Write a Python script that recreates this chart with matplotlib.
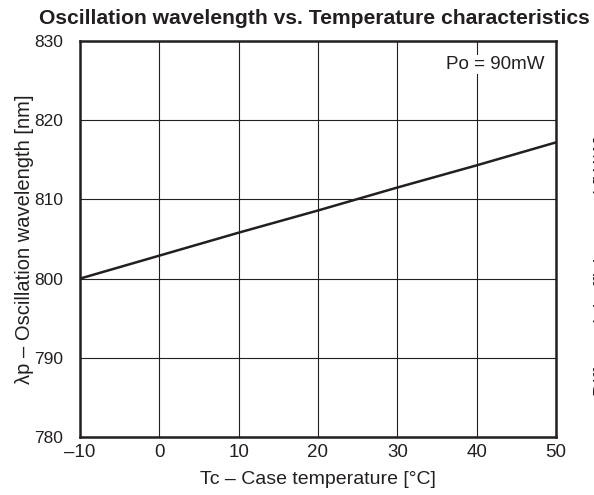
import matplotlib
matplotlib.use("Agg")
import matplotlib.pyplot as plt

plt.rcParams['font.family'] = ['Liberation Sans', 'DejaVu Sans']

temperature = [-10, 0, 10, 20, 30, 40, 50]
wavelength = [800.0, 802.9, 805.8, 808.6, 811.5, 814.3, 817.2]
x_ticks = [-10, 0, 10, 20, 30, 40, 50]
x_tick_labels = ['\u201310', '0', '10', '20', '30', '40', '50']
y_ticks = [780, 790, 800, 810, 820, 830]

INK = '#231f20'

fig = plt.figure(figsize=(5.94, 4.95), dpi=100)
ax = fig.add_axes([80/594, 1 - 437/495, (556-80)/594, (437-41)/495])

ax.plot(temperature, wavelength, color=INK, lw=1.8, solid_capstyle='butt')
ax.set_xlim(-10, 50)
ax.set_ylim(780, 830)
ax.set_xticks(x_ticks)
ax.set_xticklabels(x_tick_labels)
ax.set_yticks(y_ticks)
ax.grid(True, color=INK, lw=0.8)
ax.tick_params(length=0, colors=INK)
ax.tick_params(axis='x', labelsize=13.5, pad=5)
ax.tick_params(axis='y', labelsize=12.5, pad=12)
for s in ax.spines.values():
    s.set_linewidth(1.8)
    s.set_color(INK)

ax.set_xlabel('Tc \u2013 Case temperature [\u00b0C]', fontsize=14, labelpad=7, color=INK)
ax.set_ylabel('\u03bbp \u2013 Oscillation wavelength [nm]', fontsize=14.5, labelpad=0, color=INK)

fig.text(544/594, 1 - 56/495, 'P\u1d0f = 90mW', ha='right', va='top',
         fontsize=13.5, color=INK, zorder=5,
         bbox=dict(facecolor='white', edgecolor='none', pad=1))

fig.text(314/594, 1 - 18/495, 'Oscillation wavelength vs. Temperature characteristics',
         ha='center', va='center', fontsize=15.2, fontweight='bold', color=INK)

fig.text(594/594, 1 - 266/495, 'Differential efficiency \u03b7d [W/A]', rotation=90,
         ha='left', va='center', fontsize=14, color=INK)

fig.savefig('out.png', dpi=100, facecolor='white')
